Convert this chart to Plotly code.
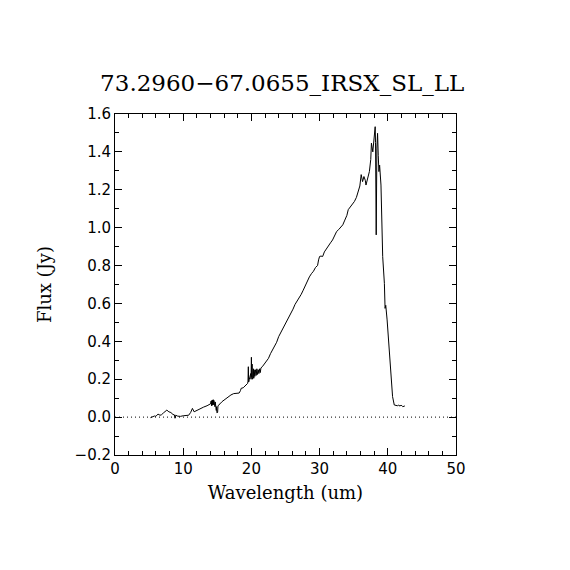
import plotly.graph_objects as go

title_text = "73.2960\u221267.0655_IRSX_SL_LL"

wavelength = [
    5.2, 5.5, 5.8, 6.0, 6.3, 6.6, 6.8, 7.1, 7.4, 7.6, 7.9, 8.2, 8.5, 8.7, 8.8, 8.9,
    9.2, 9.6, 10.0, 10.4, 10.8, 11.1, 11.35, 11.6, 12.0, 12.5, 13.0, 13.5, 13.8, 14.0,
    14.1, 14.15, 14.2, 14.25, 14.3, 14.35, 14.4, 14.45, 14.5, 14.55, 14.6, 14.65,
    14.7, 14.75, 14.8, 14.85, 14.9, 14.95, 15.0, 15.05, 15.1, 15.2, 15.4, 15.7,
    16.0, 16.3, 16.6, 17.0, 17.4, 17.8, 18.2, 18.4, 18.5, 18.8, 19.1, 19.3, 19.45,
    19.5, 19.55, 19.6, 19.7, 19.8, 19.9, 19.95, 20.0, 20.05, 20.1, 20.15, 20.2,
    20.25, 20.3, 20.35, 20.4, 20.5, 20.6, 20.7, 20.8, 20.9, 21.0, 21.1, 21.2, 21.3,
    21.4, 21.6, 21.9, 22.2, 22.5, 22.8, 23.1, 23.4, 23.7, 24.0, 24.3, 24.6, 24.9,
    25.2, 25.5, 25.8, 26.1, 26.4, 26.7, 27.0, 27.3, 27.6, 27.9, 28.2, 28.5, 28.8,
    29.1, 29.4, 29.7, 29.85, 30.0, 30.2, 30.45, 30.7, 31.0, 31.3, 31.6, 31.9, 32.2,
    32.5, 32.8, 33.1, 33.4, 33.7, 34.0, 34.2, 34.5, 34.8, 35.1, 35.4, 35.7, 35.9,
    36.1, 36.3, 36.5, 36.7, 36.8, 37.05, 37.3, 37.5, 37.6, 37.8, 38.0, 38.15, 38.2,
    38.3, 38.4, 38.5, 38.6, 38.7, 38.8, 38.9, 39.0, 39.25, 39.5, 39.6, 39.7, 39.9,
    40.1, 40.25, 40.5, 40.7, 40.95, 41.2, 41.4, 41.6, 41.8, 41.95, 42.2, 42.5,
]

flux = [
    -0.003, 0.002, 0.006, 0.004, 0.016, 0.010, 0.012, 0.022, 0.032, 0.037, 0.028, 0.024,
    0.014, 0.012, -0.006, 0.010, 0.005, 0.004, 0.007, 0.008, 0.010, 0.025, 0.046, 0.028,
    0.036, 0.045, 0.053, 0.060, 0.064, 0.070,
    0.085, 0.060, 0.088, 0.062, 0.090, 0.065, 0.092, 0.066, 0.088, 0.060, 0.085, 0.055,
    0.080, 0.045, 0.070, 0.035, 0.055, 0.022, 0.045, 0.025, 0.060, 0.065, 0.070, 0.082,
    0.090, 0.100, 0.108, 0.117, 0.124, 0.126, 0.127, 0.140, 0.152, 0.155, 0.165, 0.170,
    0.178, 0.190, 0.266, 0.185, 0.200, 0.210, 0.230, 0.200, 0.316, 0.210, 0.280, 0.200,
    0.265, 0.210, 0.255, 0.205, 0.250, 0.215, 0.250, 0.220, 0.255, 0.225, 0.250, 0.230,
    0.255, 0.235, 0.260, 0.266, 0.280, 0.295, 0.310, 0.335, 0.355, 0.375, 0.395, 0.425,
    0.445, 0.470, 0.490, 0.510, 0.528, 0.550, 0.570, 0.595, 0.612, 0.628, 0.648, 0.670,
    0.695, 0.718, 0.740, 0.757, 0.770, 0.790, 0.800, 0.830, 0.848, 0.850, 0.848, 0.872,
    0.890, 0.905, 0.920, 0.935, 0.955, 0.980, 0.990, 1.005, 1.015, 1.040, 1.065, 1.095,
    1.110, 1.120, 1.138, 1.160, 1.190, 1.220, 1.280, 1.243, 1.270, 1.250, 1.225, 1.270,
    1.296, 1.360, 1.446, 1.400, 1.500, 1.533, 1.450, 0.962, 1.420, 1.498, 1.380, 1.296,
    1.330, 1.260, 1.225, 0.847, 0.706, 0.574, 0.590, 0.513, 0.407, 0.310, 0.222, 0.108,
    0.064, 0.062, 0.060, 0.063, 0.058, 0.064, 0.055, 0.059,
]

zero_level = 0.0
x_range = [0, 50]
y_range = [-0.2, 1.6]

fig = go.Figure()
fig.add_trace(go.Scatter(x=wavelength, y=flux, mode="lines",
                         line=dict(color="black", width=1), showlegend=False))
fig.add_hline(y=zero_level, line=dict(color="black", width=1, dash="1px,3px"))

axis_style = dict(
    showline=True, linecolor="black", linewidth=1, mirror="ticks",
    ticks="inside", ticklen=7, tickcolor="black", showgrid=False, zeroline=False,
    tickfont=dict(family="DejaVu Sans", size=15, color="black"),
)

fig.update_xaxes(range=x_range, dtick=10, tick0=0,
                 minor=dict(dtick=2, ticks="inside", ticklen=4, tickcolor="black"),
                 title=dict(text="Wavelength (um)", standoff=9,
                            font=dict(family="DejaVu Serif", size=18, color="black")),
                 **axis_style)
fig.update_yaxes(range=y_range, dtick=0.2, tick0=0, tickformat=".1f",
                 minor=dict(dtick=0.1, ticks="inside", ticklen=4, tickcolor="black"),
                 title=dict(text="Flux (Jy)", standoff=18,
                            font=dict(family="DejaVu Serif", size=18, color="black")),
                 **axis_style)

fig.update_layout(
    width=570, height=570,
    margin=dict(l=107, r=122, t=106, b=123),
    paper_bgcolor="white", plot_bgcolor="white",
    title=dict(text=title_text, x=0.481, xanchor="center", y=0.868, yanchor="middle",
               font=dict(family="DejaVu Serif", size=23, color="black")),
)

fig.write_html("out.html")
